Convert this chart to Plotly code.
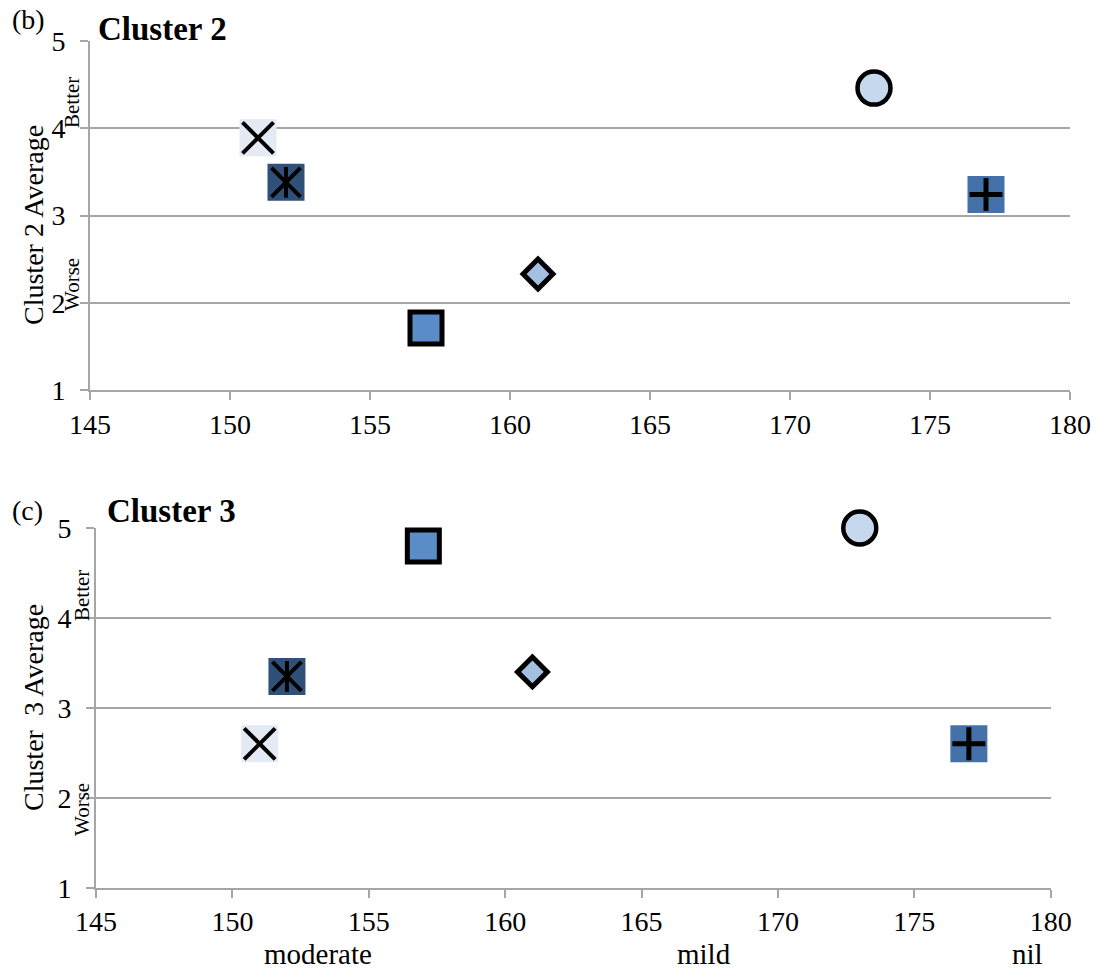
import plotly.graph_objects as go

# ---------------- data ----------------
x_values = [151, 152, 157, 161, 173, 177]
series = ["X", "Asterisk", "Square", "Diamond", "Circle", "Plus"]
cluster2_avg = [3.89, 3.38, 1.71, 2.33, 4.46, 3.24]
cluster3_avg = [2.60, 3.35, 4.80, 3.40, 5.00, 2.60]
x_ticks = [145, 150, 155, 160, 165, 170, 175, 180]
y_ticks = [1, 2, 3, 4, 5]
severity_labels = ["moderate", "mild", "nil"]

# ---------------- styles ----------------
W, H = 1099, 976
FONT = "Liberation Serif"
GRID = "#A6A6A6"

styles = {
    "X": [dict(symbol="square", size=37, color="#E3EAF4", line=dict(width=0)),
          dict(symbol="x-thin-open", size=31, color="black", line=dict(width=4, color="black"))],
    "Asterisk": [dict(symbol="square", size=37, color="#2F5179", line=dict(width=0)),
                 dict(symbol="x-thin-open", size=29, color="black", line=dict(width=4, color="black")),
                 dict(symbol="line-ns-open", size=22, color="black", line=dict(width=4, color="black"))],
    "Square": [dict(symbol="square", size=32, color="#5A8DC8", line=dict(width=5, color="black"))],
    "Diamond": [dict(symbol="diamond", size=23, color="#A3BFE2", line=dict(width=5, color="black"))],
    "Circle": [dict(symbol="circle", size=33, color="#C6D8EE", line=dict(width=4.5, color="black"))],
    "Plus": [dict(symbol="square", size=37, color="#4472A8", line=dict(width=0)),
             dict(symbol="cross-thin-open", size=23.5, color="black", line=dict(width=5, color="black"))],
}

fig = go.Figure()

for vals, xa, ya in [(cluster2_avg, "x", "y"), (cluster3_avg, "x2", "y2")]:
    for name, xv, yv in zip(series, x_values, vals):
        for mk in styles[name]:
            fig.add_trace(go.Scatter(x=[xv], y=[yv], mode="markers", marker=mk,
                                     xaxis=xa, yaxis=ya, cliponaxis=False,
                                     showlegend=False, hoverinfo="skip"))

def px_x(p):
    return p / W

def px_y(p):
    return 1 - p / H

axis_common = dict(showline=True, linecolor=GRID, linewidth=2, ticks="outside",
                   ticklen=8, tickwidth=2, tickcolor=GRID, zeroline=False,
                   automargin=False,
                   tickfont=dict(family=FONT, size=28, color="black"))

xcfg = dict(range=[145, 180], tickvals=x_ticks, showgrid=False, **axis_common)
ycfg = dict(range=[1, 5], tickvals=y_ticks, showgrid=True, gridcolor=GRID,
            gridwidth=2, ticklabelstandoff=9, **axis_common)

fig.update_layout(
    width=W, height=H,
    margin=dict(l=0, r=0, t=0, b=0, pad=0, autoexpand=False),
    paper_bgcolor="white", plot_bgcolor="white",
    showlegend=False,
    xaxis=dict(domain=[px_x(90), px_x(1070)], anchor="y", **xcfg),
    yaxis=dict(domain=[px_y(390), px_y(41)], anchor="x", **ycfg),
    xaxis2=dict(domain=[px_x(96), px_x(1050.7)], anchor="y2", **xcfg),
    yaxis2=dict(domain=[px_y(887.7), px_y(528)], anchor="x2", **ycfg),
)

ann = []
def text(x, y, s, size, bold=False, angle=0):
    ann.append(dict(x=px_x(x), y=px_y(y), xref="paper", yref="paper", text=("<b>%s</b>" % s) if bold else s,
                    showarrow=False, textangle=angle, xanchor="center", yanchor="middle",
                    font=dict(family=FONT, size=size, color="black")))

# panel (b)
text(28, 20, "(b)", 28)
text(162, 29, "Cluster 2", 33, bold=True)
text(33, 225, "Cluster 2 Average", 28, angle=-90)
text(72, 103, "Better", 21, angle=-90)
text(72, 285, "Worse", 21, angle=-90)
# panel (c)
text(27, 510, "(c)", 28)
text(171, 511, "Cluster 3", 33, bold=True)
text(33, 708, "Cluster  3 Average", 28, angle=-90)
text(82, 596, "Better", 21, angle=-90)
text(82, 810, "Worse", 21, angle=-90)
# severity labels
for s, x in zip(severity_labels, [318, 704, 1027]):
    text(x, 954, s, 29)

fig.update_layout(annotations=ann)
fig.write_html("out.html")
